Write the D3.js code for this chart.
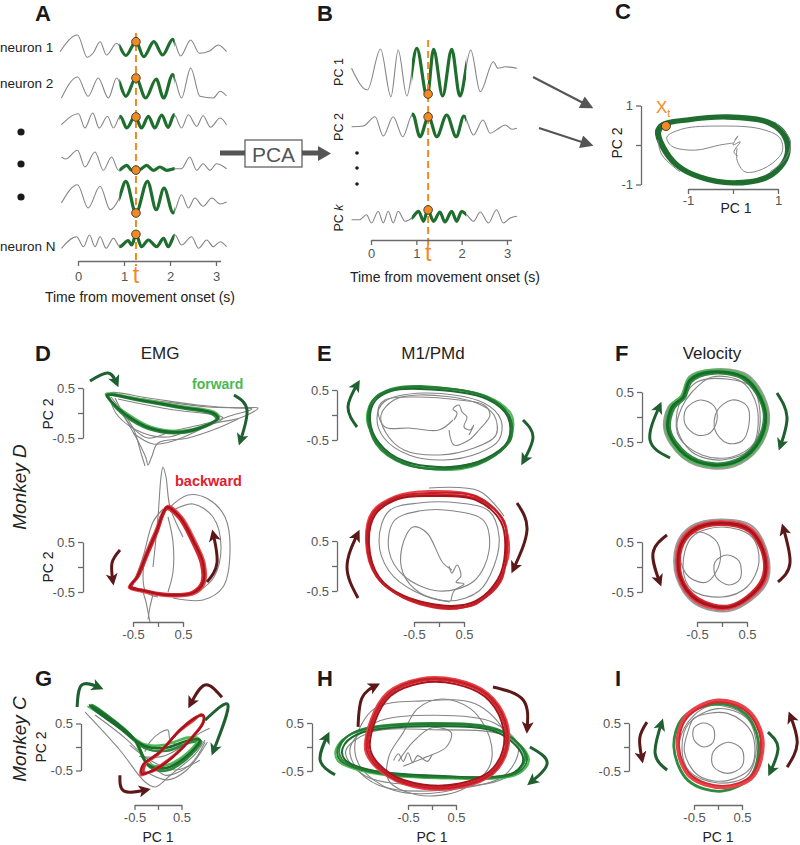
<!DOCTYPE html>
<html><head><meta charset="utf-8">
<script src="https://cdn.jsdelivr.net/npm/d3@7/dist/d3.min.js"></script>
<style>body{margin:0;background:#fff}</style>
</head><body><svg id="c" width="800" height="845"></svg>
<script>
// ================= DATA =================
const neuronLabels = ["neuron 1","neuron 2","","","","neuron N"];
const timeTicks = [0,1,2,3];
const tMark = 1.26;
const highlightWindow = [0.9, 2.1];
// neuron firing-rate traces (time s, rate a.u.) read at local extrema
const neuron1 = [[-0.39,0.63],[-0.01,2.3],[0.20,0.07],[0.33,0.5],[0.48,1.63],[0.62,0.3],[0.84,1.47],[1.04,0.25],[1.26,1.63],[1.43,0.13],[1.65,1.63],[1.84,0.3],[2.06,1.87],[2.23,0.2],[2.45,1.8],[2.64,0.47],[2.86,0.7],[3.05,1.3],[3.23,0.63]];
const neuron2 = [[-0.36,0.0],[-0.01,2.1],[0.22,0.17],[0.44,2.0],[0.66,0.0],[0.84,2.0],[1.04,0.17],[1.26,2.0],[1.47,0.0],[1.70,1.9],[1.86,0.0],[2.06,2.33],[2.25,0.0],[2.45,3.0],[2.65,0.17],[2.94,0.0],[3.09,0.67],[3.23,0.2]];
const neuron3 = [[-0.36,0.33],[0.01,1.43],[0.15,0.0],[0.32,1.5],[0.46,0.0],[0.64,1.17],[0.77,0.0],[0.92,1.17],[1.06,0.0],[1.24,1.17],[1.38,0.0],[1.53,1.17],[1.67,0.0],[1.82,1.3],[1.96,0.05],[2.09,1.33],[2.25,0.0],[2.40,1.33],[2.58,0.17],[2.72,1.23],[2.88,0.07],[3.09,1.0],[3.23,0.33]];
const neuron4 = [[-0.36,1.5],[-0.27,1.3],[-0.01,2.17],[0.15,0.5],[0.37,2.0],[0.55,0.17],[0.73,1.5],[0.88,0.17],[1.06,0.67],[1.17,0.17],[1.35,0.25],[1.49,0.67],[1.64,0.17],[1.78,0.5],[1.93,0.17],[2.11,0.33],[2.25,0.33],[2.43,1.5],[2.58,0.17],[2.72,0.83],[2.87,0.17],[3.01,0.83],[3.23,0.33]];
const neuron5 = [[-0.36,1.0],[-0.01,2.83],[0.22,0.5],[0.48,2.67],[0.70,0.33],[0.88,1.33],[1.04,3.17],[1.26,0.0],[1.51,3.17],[1.70,0.33],[1.87,2.5],[2.07,0.0],[2.25,1.83],[2.40,0.5],[2.54,1.5],[2.72,0.67],[2.91,1.5],[3.09,0.9],[3.23,1.1]];
const neuronN = [[-0.36,0.17],[-0.03,1.33],[0.12,0.33],[0.25,1.5],[0.37,0.33],[0.48,1.33],[0.61,0.17],[0.77,1.17],[0.91,0.33],[1.09,0.93],[1.17,0.5],[1.26,1.57],[1.38,0.33],[1.53,1.0],[1.71,0.33],[1.86,1.17],[1.96,0.33],[2.11,1.5],[2.25,0.5],[2.47,1.33],[2.62,0.17],[2.80,1.0],[2.94,0.33],[3.09,0.83],[3.23,0.33]];
// principal component traces (time s, score a.u.)
const pcLabels = ["PC 1","PC 2","PC k"];
const pc1 = [[-0.43,0.37],[-0.08,-1.8],[0.21,2.3],[0.44,-2.47],[0.60,2.2],[0.79,-2.4],[1.01,2.37],[1.24,-2.47],[1.38,2.27],[1.58,-2.4],[1.78,2.27],[1.96,-2.4],[2.20,2.2],[2.41,-1.97],[2.70,1.03],[2.80,0.37],[2.96,0.53],[3.22,0.37]];
const pc2 = [[-0.43,0.03],[-0.17,0.1],[0.09,1.03],[0.27,-0.9],[0.49,1.03],[0.70,-0.97],[0.92,1.3],[1.08,-0.97],[1.27,1.03],[1.45,-0.97],[1.67,1.2],[1.88,-0.97],[2.05,1.1],[2.26,-0.8],[2.47,0.7],[2.63,-0.63],[2.79,-0.23],[2.96,0.2],[3.11,-0.23],[3.22,-0.13]];
const pcK = [[-0.43,-0.17],[-0.25,-0.17],[-0.10,0.33],[0.01,-0.5],[0.16,0.67],[0.27,-0.5],[0.38,0.67],[0.49,-0.5],[0.60,0.67],[0.75,-0.33],[0.90,0.0],[1.05,0.67],[1.16,-0.33],[1.25,0.83],[1.38,-0.33],[1.52,0.6],[1.63,-0.4],[1.78,0.67],[1.89,-0.33],[2.00,0.67],[2.11,0.33],[2.26,-0.33],[2.41,0.6],[2.59,-0.5],[2.77,0.83],[2.92,-0.5],[3.07,0.0],[3.22,0.17]];

// Panel C state-space (PC1, PC2)
const cTicks = [-1,0,1];
const xtPoint = [-1.49,0.48];
const cLoops = [
 [[-1.67,0.33],[-1.56,0.51],[-1.02,0.63],[-0.13,0.71],[0.76,0.58],[1.11,0.30],[1.22,-0.13],[1.11,-0.46],[0.76,-0.81],[0.0,-0.96],[-0.73,-0.81],[-1.24,-0.51],[-1.56,-0.05]],
 [[-1.63,0.31],[-1.52,0.49],[-1.0,0.61],[-0.13,0.68],[0.73,0.56],[1.08,0.28],[1.19,-0.12],[1.09,-0.45],[0.74,-0.79],[0.0,-0.93],[-0.71,-0.79],[-1.22,-0.49],[-1.52,-0.05]],
 [[-1.70,0.35],[-1.58,0.54],[-1.03,0.66],[-0.12,0.74],[0.78,0.61],[1.14,0.33],[1.25,-0.12],[1.14,-0.48],[0.78,-0.84],[0.0,-0.99],[-0.75,-0.84],[-1.27,-0.53],[-1.60,-0.04]]
];
const cGray = [
 [[0.09,-0.08],[0.09,-0.38],[0.27,-0.68],[0.71,-0.58],[1.09,-0.18],[1.04,0.18],[0.60,0.41],[-0.29,0.48],[-1.11,0.41],[-1.47,0.20],[-1.36,-0.03],[-0.84,-0.13],[-0.29,0.0],[0.0,0.05]],
 [[0.93,0.58],[1.27,0.13],[1.18,-0.33],[0.82,-0.68]],
 [[0.04,0.13],[0.11,0.23],[0.0,0.0],[0.16,0.08],[0.02,-0.18],[0.11,-0.28]],
 [[-1.67,0.13],[-1.58,-0.25],[-1.18,-0.68]]
];

const trajTicks = [-0.5,0,0.5];
// D: EMG, monkey D
const emgFwdLoops = [
 [[-1.0,0.35],[-0.33,0.24],[0.45,0.10],[1.08,-0.02],[1.17,-0.12],[0.92,-0.28],[0.43,-0.40],[-0.18,-0.32],[-0.68,-0.04],[-0.95,0.24]],
 [[-1.04,0.38],[-0.38,0.28],[0.43,0.14],[1.12,0.02],[1.22,-0.09],[0.96,-0.24],[0.46,-0.36],[-0.14,-0.28],[-0.64,0.0],[-0.98,0.28]],
 [[-1.02,0.36],[-0.36,0.26],[0.44,0.12],[1.10,0.0],[1.20,-0.10],[0.94,-0.26],[0.44,-0.38],[-0.16,-0.30],[-0.66,-0.02],[-0.96,0.26]]
];
const emgFwdGrayLoops = [
 [[-0.96,0.40],[-0.2,0.30],[0.8,0.16],[1.6,0.10],[2.0,0.10],[1.64,-0.10],[1.14,-0.20],[0.64,-0.34],[0.2,-0.48],[-0.3,-0.40],[-0.8,-0.06],[-0.96,0.30]]
];
const emgFwdGrayPaths = [
 [[-0.86,0.30],[-0.6,-0.20],[-0.4,-0.56],[-0.24,-0.90],[-0.2,-1.04],[-0.12,-0.86],[0.0,-0.6],[0.6,-0.5],[1.2,-0.3],[1.6,-0.12]],
 [[-0.9,0.36],[0.0,0.24],[1.0,0.12],[1.88,0.08],[1.5,-0.04],[1.0,-0.2],[0.3,-0.36],[-0.2,-0.5],[-0.5,-0.3],[-0.8,0.1]],
 [[-0.94,0.32],[-0.5,-0.3],[-0.34,-0.8],[-0.26,-1.06]],
 [[-0.8,0.28],[0.2,0.08],[1.3,-0.1],[0.9,-0.3],[0.3,-0.56],[-0.1,-0.62],[-0.5,-0.4]]
];
const emgBwdLoops = [
 [[0.18,1.16],[0.42,0.97],[0.67,0.52],[0.86,0.07],[0.87,-0.31],[0.68,-0.50],[0.17,-0.54],[-0.34,-0.45],[-0.53,-0.39],[-0.39,-0.19],[-0.19,0.28],[0.0,0.73],[0.11,1.05]],
 [[0.20,1.22],[0.47,1.01],[0.73,0.55],[0.93,0.08],[0.93,-0.33],[0.72,-0.54],[0.19,-0.58],[-0.37,-0.48],[-0.58,-0.41],[-0.44,-0.21],[-0.24,0.28],[-0.04,0.75],[0.09,1.09]],
 [[0.18,1.20],[0.44,1.00],[0.70,0.54],[0.90,0.08],[0.90,-0.32],[0.70,-0.52],[0.18,-0.56],[-0.36,-0.46],[-0.56,-0.40],[-0.42,-0.20],[-0.22,0.28],[-0.02,0.74],[0.10,1.08]]
];
const emgBwdGrayLoops = [];
const emgBwdGrayPaths = [
 [[-0.1,0.0],[0.0,1.0],[0.06,1.8],[0.1,2.0],[0.16,1.8],[0.24,1.2],[0.5,0.6]],
 [[0.2,1.16],[0.6,1.44],[1.0,1.36],[1.34,1.0],[1.44,0.3],[1.3,-0.4],[0.9,-0.66],[0.3,-0.62]],
 [[0.24,1.1],[0.7,1.26],[1.1,1.0],[1.26,0.4],[1.12,-0.2],[0.8,-0.5]],
 [[0.1,1.0],[-0.2,0.4],[-0.3,-0.2],[-0.24,-0.5],[0.0,-0.6]],
 [[0.2,1.0],[0.3,0.5],[0.3,-0.1],[0.2,-0.5]],
 [[-0.3,-0.5],[-0.24,-0.7],[-0.2,-0.9],[-0.16,-1.1]],
 [[-0.1,-0.55],[-0.16,-0.8],[-0.2,-1.05]],
 [[-0.5,-0.36],[-0.3,0.2],[-0.1,0.9],[0.1,1.16]]
];
// E: M1/PMd, monkey D
const m1FwdLoops = [
 [[-0.36,0.58],[0.98,0.34],[1.40,-0.06],[1.44,-0.48],[0.98,-0.86],[0.20,-1.06],[-0.70,-0.98],[-1.26,-0.58],[-1.40,-0.08],[-1.30,0.32],[-0.96,0.52]],
 [[-0.40,0.54],[0.94,0.38],[1.46,-0.02],[1.40,-0.52],[0.94,-0.92],[0.24,-1.10],[-0.74,-0.94],[-1.22,-0.54],[-1.44,-0.12],[-1.34,0.28],[-1.00,0.48]],
 [[-0.38,0.52],[0.96,0.32],[1.38,-0.04],[1.38,-0.52],[0.92,-0.88],[0.22,-1.04],[-0.70,-0.92],[-1.20,-0.56],[-1.38,-0.10],[-1.28,0.28],[-0.96,0.48]],
 [[-0.38,0.56],[0.96,0.36],[1.42,-0.04],[1.42,-0.50],[0.96,-0.90],[0.22,-1.08],[-0.72,-0.96],[-1.24,-0.56],[-1.42,-0.10],[-1.32,0.30],[-0.98,0.50]]
];
const m1FwdGrayLoops = [
 [[-0.3,0.44],[0.9,0.24],[1.24,-0.1],[1.2,-0.5],[0.8,-0.76],[0.1,-0.9],[-0.6,-0.8],[-1.1,-0.46],[-1.24,-0.06],[-1.1,0.26]],
 [[-0.4,0.40],[0.7,0.26],[1.1,0.0],[1.14,-0.4],[0.7,-0.66],[0.0,-0.8],[-0.7,-0.7],[-1.06,-0.36],[-1.16,0.0],[-0.9,0.3]]
];
const m1FwdGrayPaths = [
 [[0.28,-0.1],[0.0,-0.3],[-0.6,-0.26],[-1.08,-0.24],[-1.22,0.1],[-1.08,0.3],[-0.5,0.36],[0.4,0.3],[0.9,0.2],[1.02,0.0],[0.8,-0.3],[0.6,-0.5],[0.3,-0.6],[0.2,-0.3]],
 [[0.3,-0.1],[0.36,0.04],[0.28,0.12],[0.4,0.2],[0.46,0.06],[0.56,-0.04],[0.5,-0.24],[0.62,-0.3],[0.7,-0.2],[0.6,-0.4]]
];
const m1BwdLoops = [
 [[-0.16,1.42],[0.78,1.34],[1.30,0.90],[1.34,0.24],[1.24,-0.30],[0.78,-0.72],[0.20,-0.86],[-0.70,-0.64],[-1.22,-0.24],[-1.42,0.44],[-1.30,1.04],[-0.82,1.36]],
 [[-0.20,1.50],[0.74,1.40],[1.26,0.94],[1.40,0.28],[1.20,-0.26],[0.74,-0.76],[0.24,-0.82],[-0.74,-0.60],[-1.26,-0.20],[-1.46,0.48],[-1.34,1.08],[-0.86,1.40]],
 [[-0.18,1.40],[0.74,1.32],[1.24,0.88],[1.32,0.26],[1.18,-0.26],[0.74,-0.70],[0.22,-0.80],[-0.70,-0.60],[-1.20,-0.22],[-1.40,0.44],[-1.28,1.02],[-0.82,1.34]],
 [[-0.18,1.46],[0.76,1.38],[1.28,0.92],[1.36,0.26],[1.22,-0.28],[0.76,-0.74],[0.22,-0.84],[-0.72,-0.62],[-1.24,-0.22],[-1.44,0.46],[-1.32,1.06],[-0.84,1.38]]
];
const m1BwdGrayLoops = [
 [[-1.0,1.1],[-1.2,0.5],[-1.0,-0.1],[-0.5,-0.5],[0.2,-0.7],[0.8,-0.5],[1.1,0.0],[1.2,0.6],[1.0,1.1],[0.4,1.26],[-0.4,1.26]],
 [[-0.9,0.9],[-1.0,0.3],[-0.7,-0.2],[0.0,-0.5],[0.7,-0.3],[1.0,0.3],[0.9,0.9],[0.3,1.1],[-0.4,1.1]]
];
const m1BwdGrayPaths = [
 [[0.26,-0.08],[0.08,0.06],[-0.24,0.66],[-0.52,0.78],[-0.74,0.38],[-0.72,-0.14],[-0.38,-0.54],[0.22,-0.72]],
 [[-0.2,1.56],[0.8,1.5],[1.3,1.0]],
 [[0.2,0.0],[0.26,-0.14],[0.36,0.02],[0.44,-0.2],[0.34,-0.32],[0.5,-0.36],[0.3,-0.5],[0.24,-0.7]]
];
// F: hand velocity, monkey D
const velFwdLoops = [
 [[-0.22,0.87],[0.44,0.75],[0.83,0.14],[0.73,-0.44],[0.35,-0.83],[-0.20,-0.93],[-0.71,-0.73],[-1.04,-0.26],[-0.96,0.18],[-0.75,0.38],[-0.61,0.71]],
 [[-0.26,0.93],[0.48,0.81],[0.89,0.14],[0.79,-0.48],[0.37,-0.89],[-0.20,-0.99],[-0.77,-0.79],[-1.11,-0.26],[-1.03,0.22],[-0.81,0.42],[-0.66,0.77]],
 [[-0.24,0.90],[0.46,0.78],[0.86,0.14],[0.76,-0.46],[0.36,-0.86],[-0.20,-0.96],[-0.74,-0.76],[-1.08,-0.26],[-1.00,0.20],[-0.78,0.40],[-0.64,0.74]]
];
const velFwdGrayLoops = [
 [[-0.44,0.34],[-0.16,0.22],[-0.10,-0.06],[-0.24,-0.32],[-0.50,-0.36],[-0.74,-0.14],[-0.72,0.16]],
 [[0.20,0.34],[0.50,0.22],[0.54,-0.14],[0.40,-0.48],[0.10,-0.52],[-0.14,-0.26],[-0.10,0.12]],
 [[-0.8,0.36],[-0.5,0.7],[0.1,0.76],[0.6,0.6],[0.76,0.1],[0.66,-0.5],[0.2,-0.8],[-0.4,-0.76],[-0.86,-0.4],[-0.9,0.1]],
 [[-0.6,0.5],[-0.2,0.8],[0.4,0.7],[0.7,0.2],[0.6,-0.6],[0.0,-0.86],[-0.6,-0.7],[-0.9,-0.2],[-0.8,0.2]]
];
const velFwdGrayOuter = [
 [[-0.2,0.95],[0.52,0.83],[0.93,0.12],[0.81,-0.50],[0.37,-0.93],[-0.2,-1.03],[-0.79,-0.81],[-1.15,-0.26],[-1.07,0.2],[-0.81,0.42],[-0.65,0.81]]
];
const velBwdLoops = [
 [[-0.04,0.85],[0.54,0.71],[0.83,0.20],[0.77,-0.30],[0.16,-0.77],[-0.48,-0.63],[-0.81,-0.20],[-0.81,0.38],[-0.56,0.71]],
 [[-0.04,0.91],[0.58,0.77],[0.89,0.20],[0.83,-0.34],[0.16,-0.83],[-0.52,-0.69],[-0.87,-0.20],[-0.87,0.42],[-0.60,0.77]],
 [[-0.04,0.88],[0.56,0.74],[0.86,0.20],[0.80,-0.32],[0.16,-0.80],[-0.50,-0.66],[-0.84,-0.20],[-0.84,0.40],[-0.58,0.74]]
];
const velBwdGrayLoops = [
 [[-0.44,0.70],[-0.10,0.50],[-0.04,0.10],[-0.30,-0.30],[-0.66,-0.20],[-0.84,0.20],[-0.74,0.56]],
 [[0.10,0.24],[0.34,0.12],[0.36,-0.24],[0.14,-0.36],[-0.12,-0.20],[-0.14,0.10]],
 [[-0.6,0.6],[0.0,0.8],[0.6,0.6],[0.74,0.1],[0.5,-0.4],[0.0,-0.6],[-0.6,-0.46],[-0.78,0.0]]
];
const velBwdGrayOuter = [
 [[-0.02,0.95],[0.61,0.81],[0.93,0.18],[0.87,-0.36],[0.18,-0.87],[-0.54,-0.73],[-0.91,-0.20],[-0.91,0.44],[-0.62,0.81]]
];
// G: EMG, monkey C
const emgCFwdLoops = [
 [[-1.40,0.90],[-0.86,0.50],[-0.46,0.10],[-0.18,-0.42],[0.18,-0.50],[0.60,-0.26],[0.92,0.12],[0.70,0.10],[0.18,-0.08],[-0.24,-0.04],[-0.76,0.36],[-1.30,0.80]],
 [[-1.48,0.86],[-0.94,0.56],[-0.52,0.18],[-0.24,-0.34],[0.12,-0.40],[0.54,-0.20],[0.86,0.18],[0.64,0.20],[0.12,0.04],[-0.30,0.06],[-0.84,0.44],[-1.38,0.80]],
 [[-1.45,0.89],[-0.91,0.53],[-0.49,0.15],[-0.21,-0.38],[0.15,-0.45],[0.57,-0.23],[0.89,0.15],[0.68,0.15],[0.15,-0.02],[-0.28,0.02],[-0.81,0.40],[-1.34,0.79]]
];
const emgCBwdLoops = [
 [[-0.30,-0.55],[-0.26,-0.36],[0.08,-0.06],[0.50,0.40],[0.86,0.66],[0.98,0.64],[0.92,0.46],[0.62,0.10],[0.26,-0.26],[-0.04,-0.48]],
 [[-0.36,-0.60],[-0.34,-0.42],[0.0,-0.16],[0.42,0.30],[0.78,0.58],[0.92,0.70],[0.98,0.56],[0.72,0.20],[0.36,-0.16],[0.0,-0.42]],
 [[-0.34,-0.57],[-0.32,-0.38],[0.04,-0.11],[0.47,0.36],[0.83,0.64],[0.96,0.68],[0.96,0.51],[0.68,0.15],[0.32,-0.21],[-0.02,-0.45]]
];
const emgCGrayPaths = [
 [[-1.55,0.74],[-0.8,-0.08],[-0.28,-0.74],[-0.06,-0.85],[0.26,-0.6],[0.79,-0.15],[1.0,0.15]],
 [[-1.34,0.68],[-0.7,0.19],[-0.21,-0.28],[0.15,-0.6],[0.68,-0.38],[1.0,0.1]],
 [[-0.28,-0.1],[-0.17,0.11],[0.04,0.30],[0.21,0.36],[0.26,0.15],[0.47,0.04],[0.79,0.19]],
 [[-0.6,0.04],[-0.17,-0.28],[0.36,-0.49],[0.89,-0.28]],
 [[-0.4,-0.2],[0.1,-0.2],[0.5,0.0],[0.9,0.3],[1.1,0.4]],
 [[-0.3,-0.5],[0.2,-0.7],[0.6,-0.5],[1.05,0.1]]
];
// H: M1/PMd, monkey C
const m1CFwdLoops = [
 [[-1.92,0.0],[-1.62,0.31],[-0.04,0.50],[1.46,0.33],[1.94,-0.21],[1.74,-0.52],[0.10,-0.61],[-1.42,-0.46],[-1.88,-0.25]],
 [[-2.0,-0.04],[-1.68,0.27],[-0.04,0.46],[1.50,0.29],[2.02,-0.25],[1.80,-0.56],[0.10,-0.65],[-1.46,-0.50],[-1.96,-0.29]],
 [[-1.86,-0.02],[-1.56,0.26],[-0.02,0.43],[1.42,0.28],[1.90,-0.24],[1.70,-0.54],[0.10,-0.60],[-1.38,-0.46],[-1.82,-0.26]],
 [[-1.96,-0.02],[-1.65,0.29],[-0.04,0.48],[1.48,0.31],[1.98,-0.23],[1.77,-0.54],[0.10,-0.63],[-1.44,-0.48],[-1.92,-0.27]]
];
const m1CBwdLoops = [
 [[-1.32,-0.08],[-1.22,0.55],[-0.88,1.10],[-0.25,1.37],[0.50,1.35],[1.13,1.08],[1.49,0.54],[1.52,-0.05],[1.23,-0.53],[0.60,-0.79],[-0.20,-0.81],[-0.88,-0.58]],
 [[-1.38,-0.12],[-1.28,0.56],[-0.92,1.15],[-0.25,1.43],[0.50,1.41],[1.17,1.12],[1.55,0.56],[1.58,-0.05],[1.27,-0.57],[0.60,-0.85],[-0.20,-0.87],[-0.92,-0.62]],
 [[-1.28,-0.08],[-1.19,0.53],[-0.86,1.07],[-0.24,1.33],[0.49,1.31],[1.10,1.05],[1.45,0.53],[1.48,-0.05],[1.20,-0.51],[0.58,-0.76],[-0.20,-0.78],[-0.86,-0.56]],
 [[-1.35,-0.10],[-1.25,0.55],[-0.90,1.12],[-0.25,1.40],[0.50,1.38],[1.15,1.10],[1.52,0.55],[1.55,-0.05],[1.25,-0.55],[0.60,-0.82],[-0.20,-0.84],[-0.90,-0.60]]
];
const m1CGrayLoops = [
 [[-1.6,0.1],[-1.2,0.8],[-0.2,0.96],[0.9,0.9],[1.5,0.3],[1.4,-0.4],[0.4,-0.9],[-0.8,-0.9],[-1.5,-0.4]],
 [[-1.7,0.0],[-1.2,0.5],[0.0,0.66],[1.3,0.5],[1.8,0.0],[1.5,-0.6],[0.2,-0.9],[-1.1,-0.8],[-1.6,-0.4]],
 [[-0.9,-0.2],[-0.6,0.3],[-0.3,0.8],[0.2,1.0],[0.8,0.8],[1.2,0.2],[1.2,-0.4],[0.6,-0.9],[-0.3,-1.0],[-0.9,-0.7]],
 [[-1.8,-0.1],[-1.3,0.3],[0.0,0.36],[1.6,0.2],[1.9,-0.3],[1.4,-0.7],[0.0,-0.8],[-1.4,-0.6]]
];
const m1CGrayPaths = [
 [[-0.7,-0.3],[-0.4,0.1],[0.0,0.4],[0.4,0.3],[0.3,0.0],[-0.1,-0.2],[-0.6,-0.4]],
 [[-0.8,-0.28],[-0.7,-0.14],[-0.6,-0.3],[-0.5,-0.12],[-0.4,-0.32],[-0.3,-0.18],[-0.1,-0.3],[0.0,-0.16]]
];
// I: hand velocity, monkey C
const velCFwdLoops = [
 [[0.0,0.90],[0.56,0.70],[0.84,0.12],[0.68,-0.62],[0.08,-0.92],[-0.62,-0.70],[-0.92,0.0],[-0.72,0.62]]
];
const velCBwdLoops = [
 [[-0.02,0.94],[0.60,0.74],[0.90,0.14],[0.70,-0.60],[0.10,-0.82],[-0.56,-0.60],[-0.82,0.0],[-0.66,0.60]],
 [[-0.02,0.98],[0.63,0.77],[0.94,0.15],[0.73,-0.63],[0.10,-0.85],[-0.58,-0.63],[-0.85,0.0],[-0.69,0.63]]
];
const velCGrayLoops = [
 [[-0.3,0.5],[-0.1,0.4],[-0.1,0.1],[-0.3,0.0],[-0.5,0.15],[-0.5,0.4]],
 [[0.2,0.1],[0.5,-0.05],[0.5,-0.4],[0.2,-0.55],[-0.1,-0.4],[-0.1,-0.1]],
 [[-0.6,0.5],[0.0,0.8],[0.6,0.6],[0.8,0.0],[0.6,-0.6],[0.0,-0.75],[-0.6,-0.5],[-0.75,0.0]],
 [[-0.5,0.6],[0.2,0.7],[0.7,0.3],[0.7,-0.4],[0.2,-0.7],[-0.4,-0.6],[-0.7,-0.1],[-0.6,0.4]],
 [[-0.7,0.4],[-0.2,0.85],[0.5,0.7],[0.85,0.1],[0.6,-0.7],[-0.1,-0.8],[-0.8,-0.3]]
];
// rotation-direction arrows (start, mid, end) in PC units
const arrowsEmgFwd = [{dir:"fwd",p:[[-1.36,0.64],[-1.0,0.80],[-0.82,0.58]]},{dir:"fwd",p:[[1.52,0.36],[1.78,0.06],[1.64,-0.58]]}];
const arrowsEmgBwd = [{dir:"bwd",p:[[-0.76,0.34],[-0.92,0.08],[-0.9,-0.3]]},{dir:"bwd",p:[[0.98,-0.3],[1.18,0.08],[1.1,0.68]]}];
const arrowsM1Fwd = [{dir:"fwd",p:[[-1.64,-0.24],[-1.82,0.16],[-1.62,0.64]]},{dir:"fwd",p:[[1.68,-0.1],[1.88,-0.44],[1.68,-0.94]]}];
const arrowsM1Bwd = [{dir:"bwd",p:[[-1.62,-0.64],[-1.84,-0.02],[-1.62,0.66]]},{dir:"bwd",p:[[1.56,1.26],[1.76,0.72],[1.48,-0.08]]}];
const arrowsVelFwd = [{dir:"fwd",p:[[-1.04,-0.82],[-1.44,-0.46],[-1.24,0.24]]},{dir:"fwd",p:[[1.1,0.48],[1.3,0.0],[1.16,-0.6]]}];
const arrowsVelBwd = [{dir:"bwd",p:[[-1.1,0.64],[-1.38,0.28],[-1.24,-0.32]]},{dir:"bwd",p:[[1.12,-0.3],[1.36,0.08],[1.22,0.8]]}];
const arrowsEmgC = [{dir:"fwd",p:[[-1.72,0.85],[-1.62,1.32],[-1.23,1.26]]},{dir:"fwd",p:[[1.0,0.57],[1.49,0.89],[1.17,-0.11]]},{dir:"bwd",p:[[1.36,1.06],[1.0,1.32],[0.68,0.89]]},{dir:"bwd",p:[[-0.81,-0.6],[-0.72,-0.94],[-0.23,-0.91]]}];
const arrowsM1C = [{dir:"bwd",p:[[-1.54,0.42],[-1.46,1.02],[-1.15,1.29]]},{dir:"bwd",p:[[1.27,1.25],[1.9,0.98],[1.98,0.35]]},{dir:"fwd",p:[[-2.02,-0.58],[-2.33,-0.27],[-2.17,0.25]]},{dir:"fwd",p:[[2.04,0.0],[2.4,-0.33],[2.04,-0.75]]}];
const arrowsVelC = [{dir:"bwd",p:[[-1.48,0.52],[-1.63,0.19],[-1.58,-0.27]]},{dir:"fwd",p:[[-1.06,-0.48],[-1.31,-0.13],[-1.17,0.52]]},{dir:"fwd",p:[[1.04,0.31],[1.25,-0.02],[1.08,-0.54]]},{dir:"bwd",p:[[1.44,-0.42],[1.65,0.08],[1.5,0.67]]}];

// ================= DRAWING =================
const FONT = '"Liberation Sans", Arial, Helvetica, sans-serif';
const ORANGE = "#f28a22", TGREEN = "#1e6e2e", GRAY = "#858585", AX = "#6a6a6a", TXT = "#222";
const FWD = ["#2a8c3c","#4fb955","#1b6b2d","#237a34"];
const BWD = ["#d6262e","#e8434a","#a8141b","#c21e26"];
const ARROW = {fwd:"#1f6030", bwd:"#5b1818"};
const svg = d3.select("#c").attr("font-family", FONT);
const defs = svg.append("defs");
Object.entries(ARROW).forEach(([k,c])=>{
  defs.append("marker").attr("id","ah-"+k).attr("viewBox","0 0 10 10").attr("refX",7).attr("refY",5)
    .attr("markerWidth",13).attr("markerHeight",12).attr("markerUnits","userSpaceOnUse").attr("orient","auto")
    .append("path").attr("d","M0,0L10,5L0,10L2.5,5Z").attr("fill",c);
});
defs.append("marker").attr("id","ah-gray").attr("viewBox","0 0 10 10").attr("refX",8).attr("refY",5)
  .attr("markerWidth",15).attr("markerHeight",13).attr("markerUnits","userSpaceOnUse").attr("orient","auto")
  .append("path").attr("d","M0,0L10,5L0,10Z").attr("fill","#555");

function txt(x,y,s,o={}){
  const t = svg.append("text").attr("x",x).attr("y",y).text(s)
    .attr("font-size",o.size||13).attr("fill",o.fill||TXT).attr("text-anchor",o.anchor||"start");
  if(o.weight) t.attr("font-weight",o.weight);
  if(o.italic) t.attr("font-style","italic");
  return t;
}
function styleAxis(g, fs){
  g.attr("font-family",FONT).attr("font-size",fs||13);
  g.selectAll(".domain,.tick line").attr("stroke",AX).attr("stroke-width",1.3);
  g.selectAll("text").attr("fill","#555");
}
function yAtX(node, x){
  let lo=0, hi=node.getTotalLength();
  for(let i=0;i<40;i++){const m=(lo+hi)/2; if(node.getPointAtLength(m).x<x) lo=m; else hi=m;}
  return node.getPointAtLength((lo+hi)/2).y;
}

[["A",35,21],["B",317,21],["C",615,19],["D",35,361],["E",317,361],["F",615,361],["G",35,686],["H",317,686],["I",615,686]]
  .forEach(([s,x,y])=>txt(x,y,s,{size:22,weight:"bold",fill:"#1a1a1a"}));

function tracePanel(series, xS, bases, k, clipId){
  defs.append("clipPath").attr("id",clipId).append("rect")
    .attr("x",xS(highlightWindow[0])).attr("width",xS(highlightWindow[1])-xS(highlightWindow[0]))
    .attr("y",0).attr("height",320);
  const paths = [];
  series.forEach((s,i)=>{
    const line = d3.line().x(d=>xS(d[0])).y(d=>bases[i]-d[1]*k).curve(d3.curveMonotoneX);
    const p = svg.append("path").attr("d",line(s)).attr("fill","none").attr("stroke",GRAY).attr("stroke-width",1.1);
    svg.append("path").attr("d",line(s)).attr("fill","none").attr("stroke",TGREEN).attr("stroke-width",3.2)
      .attr("clip-path",`url(#${clipId})`);
    paths.push(p.node());
  });
  return paths;
}
const xA = d3.scaleLinear().domain([0,3]).range([78,216]);
const baseA = [58,98,128,172,213,250];
const pathsA = tracePanel([neuron1,neuron2,neuron3,neuron4,neuron5,neuronN], xA, baseA, 10, "clipA");
const xB = d3.scaleLinear().domain([0,3]).range([371,507]);
const baseB = [72,127,218];
const pathsB = tracePanel([pc1,pc2,pcK], xB, baseB, 10, "clipB");

svg.append("line").attr("x1",xA(tMark)).attr("x2",xA(tMark)).attr("y1",33).attr("y2",266)
  .attr("stroke",ORANGE).attr("stroke-width",2).attr("stroke-dasharray","7,4");
svg.append("line").attr("x1",xB(tMark)).attr("x2",xB(tMark)).attr("y1",40).attr("y2",246)
  .attr("stroke",ORANGE).attr("stroke-width",2).attr("stroke-dasharray","7,4");
pathsA.forEach(n=>svg.append("circle").attr("cx",xA(tMark)).attr("cy",yAtX(n,xA(tMark))).attr("r",4.3)
  .attr("fill",ORANGE).attr("stroke","#333").attr("stroke-width",0.9));
pathsB.forEach(n=>svg.append("circle").attr("cx",xB(tMark)).attr("cy",yAtX(n,xB(tMark))).attr("r",4.3)
  .attr("fill",ORANGE).attr("stroke","#333").attr("stroke-width",0.9));

const gAxA = svg.append("g").attr("transform","translate(0,261)")
  .call(d3.axisBottom(xA.copy().domain([0,3.1]).range([xA(0),xA(3.1)])).tickValues(timeTicks).tickSize(5).tickSizeOuter(0).tickPadding(6).tickFormat(d3.format("d")));
styleAxis(gAxA,13);
const gAxB = svg.append("g").attr("transform","translate(0,240)")
  .call(d3.axisBottom(xB.copy().domain([0,3.1]).range([xB(0),xB(3.1)])).tickValues(timeTicks).tickSize(5).tickSizeOuter(0).tickPadding(4).tickFormat(d3.format("d")));
styleAxis(gAxB,13);
txt(xA(tMark),283,"t",{size:23,fill:ORANGE,anchor:"middle"});
txt(xB(tMark),261,"t",{size:23,fill:ORANGE,anchor:"middle"});
txt(140,302,"Time from movement onset (s)",{size:14,anchor:"middle"});
txt(445,282,"Time from movement onset (s)",{size:14,anchor:"middle"});

const labelY = [52,88,null,null,null,251];
neuronLabels.forEach((s,i)=>{ if(s) txt(0,labelY[i],s,{size:13.5}); });
[132,164,197].forEach(y=>svg.append("circle").attr("cx",21).attr("cy",y).attr("r",3.6).attr("fill","#1a1a1a"));
[153,168,184].forEach(y=>svg.append("circle").attr("cx",357).attr("cy",y).attr("r",1.8).attr("fill","#1a1a1a"));
[[72,0],[127,1],[218,2]].forEach(([y,i])=>{
  const t = svg.append("text").attr("transform",`translate(343,${y}) rotate(-90)`).attr("text-anchor","middle")
    .attr("font-size",12.5).attr("fill",TXT);
  if(i<2) t.text(pcLabels[i]);
  else { t.append("tspan").text("PC "); t.append("tspan").attr("font-style","italic").text("k"); }
});

svg.append("line").attr("x1",220).attr("x2",246).attr("y1",153).attr("y2",153).attr("stroke","#555").attr("stroke-width",5);
svg.append("rect").attr("x",245).attr("y",140).attr("width",57).attr("height",27).attr("fill","#fff").attr("stroke","#555").attr("stroke-width",1.2);
txt(273.5,161.5,"PCA",{size:21,fill:"#555",anchor:"middle"});
svg.append("line").attr("x1",302).attr("x2",320).attr("y1",153).attr("y2",153).attr("stroke","#555").attr("stroke-width",5);
svg.append("path").attr("d","M318,146L331,153.5L318,161Z").attr("fill","#555");
[[533,77,591,107],[539,128,591,145]].forEach(([x1,y1,x2,y2])=>
  svg.append("line").attr("x1",x1).attr("y1",y1).attr("x2",x2).attr("y2",y2).attr("stroke","#555").attr("stroke-width",2)
    .attr("marker-end","url(#ah-gray)"));

(function(){
  const x = d3.scaleLinear().domain([-1,1]).range([688,778]);
  const y = d3.scaleLinear().domain([-1,1]).range([184.5,105.5]);
  const closed = d3.line().x(d=>x(d[0])).y(d=>y(d[1])).curve(d3.curveCatmullRomClosed.alpha(0.5));
  const open = d3.line().x(d=>x(d[0])).y(d=>y(d[1])).curve(d3.curveCatmullRom.alpha(0.5));
  cLoops.forEach(l=>svg.append("path").attr("d",closed(l)).attr("fill","none").attr("stroke","#1f6e30").attr("stroke-width",3));
  cGray.forEach(l=>svg.append("path").attr("d",open(l)).attr("fill","none").attr("stroke",GRAY).attr("stroke-width",1));
  svg.append("circle").attr("cx",x(xtPoint[0])).attr("cy",y(xtPoint[1])).attr("r",4.5).attr("fill",ORANGE).attr("stroke","#333").attr("stroke-width",0.9);
  const xt = svg.append("text").attr("x",656).attr("y",113).attr("font-size",17).attr("fill",ORANGE);
  xt.append("tspan").text("X"); xt.append("tspan").attr("dy",4).attr("font-size",11).text("t");
  const ay = svg.append("g").attr("transform","translate(641,0)")
    .call(d3.axisLeft(y).tickValues(cTicks).tickSize(5).tickSizeOuter(0).tickPadding(3).tickFormat(d=>d===0?"":(d<0?"-1":"1")));
  styleAxis(ay,13);
  const ax = svg.append("g").attr("transform","translate(0,189)")
    .call(d3.axisBottom(x).tickValues(cTicks).tickSize(5).tickSizeOuter(0).tickPadding(2).tickFormat(d=>d===0?"":(d<0?"-1":"1")));
  styleAxis(ax,13);
  svg.append("text").attr("transform","translate(622,143) rotate(-90)").attr("text-anchor","middle").attr("font-size",14).attr("fill",TXT).text("PC 2");
  txt(736,213,"PC 1",{size:14,anchor:"middle"});
})();

function traj(o){
  const x = d3.scaleLinear().domain([-1,1]).range([o.ox-o.k,o.ox+o.k]);
  const y = d3.scaleLinear().domain([-1,1]).range([o.oy+o.k,o.oy-o.k]);
  const closed = d3.line().x(d=>x(d[0])).y(d=>y(d[1])).curve(d3.curveCatmullRomClosed.alpha(0.5));
  const open = d3.line().x(d=>x(d[0])).y(d=>y(d[1])).curve(d3.curveCatmullRom.alpha(0.5));
  const arrowLine = d3.line().x(d=>x(d[0])).y(d=>y(d[1])).curve(d3.curveNatural);
  (o.grayOuter||[]).forEach(l=>svg.append("path").attr("d",closed(l)).attr("fill","none").attr("stroke","#9a9a9a").attr("stroke-width",2.2));
  (o.grayLoops||[]).forEach(l=>svg.append("path").attr("d",closed(l)).attr("fill","none").attr("stroke",GRAY).attr("stroke-width",1.1));
  (o.grayPaths||[]).forEach(l=>svg.append("path").attr("d",open(l)).attr("fill","none").attr("stroke",GRAY).attr("stroke-width",1.1));
  (o.fwd||[]).forEach((l,i)=>svg.append("path").attr("d",closed(l)).attr("fill","none").attr("stroke",FWD[i%FWD.length]).attr("stroke-width",o.w||2));
  (o.bwd||[]).forEach((l,i)=>svg.append("path").attr("d",closed(l)).attr("fill","none").attr("stroke",BWD[i%BWD.length]).attr("stroke-width",o.w||2));
  (o.arrows||[]).forEach(a=>svg.append("path").attr("d",arrowLine(a.p)).attr("fill","none").attr("stroke",ARROW[a.dir])
    .attr("stroke-width",3).attr("marker-end",`url(#ah-${a.dir})`));
  if(o.yAxisX!=null){
    const ys = y.copy().domain([-0.5,0.5]).range([y(-0.5),y(0.5)]);
    const g = svg.append("g").attr("transform",`translate(${o.yAxisX},0)`)
      .call(d3.axisLeft(ys).tickValues(trajTicks).tickSize(5).tickSizeOuter(0).tickPadding(3).tickFormat(d=>d===0?"":(d<0?"-0.5":"0.5")));
    styleAxis(g,13);
  }
  if(o.xAxisY!=null){
    const xs = x.copy().domain([-0.5,0.5]).range([x(-0.5),x(0.5)]);
    const g = svg.append("g").attr("transform",`translate(0,${o.xAxisY})`)
      .call(d3.axisBottom(xs).tickValues(trajTicks).tickSize(5).tickSizeOuter(0).tickPadding(3).tickFormat(d=>d===0?"":(d<0?"-0.5":"0.5")));
    styleAxis(g,13);
  }
}
traj({ox:158,oy:413,k:50,fwd:emgFwdLoops,grayLoops:emgFwdGrayLoops,grayPaths:emgFwdGrayPaths,arrows:arrowsEmgFwd,yAxisX:83,w:2.6});
traj({ox:158,oy:567,k:50,bwd:emgBwdLoops,grayLoops:emgBwdGrayLoops,grayPaths:emgBwdGrayPaths,arrows:arrowsEmgBwd,yAxisX:83,xAxisY:622,w:2.4});
traj({ox:439,oy:415,k:50,fwd:m1FwdLoops,grayLoops:m1FwdGrayLoops,grayPaths:m1FwdGrayPaths,arrows:arrowsM1Fwd,yAxisX:337});
traj({ox:439,oy:566,k:50,bwd:m1BwdLoops,grayLoops:m1BwdGrayLoops,grayPaths:m1BwdGrayPaths,arrows:arrowsM1Bwd,yAxisX:337,xAxisY:622});
traj({ox:722,oy:417,k:50,fwd:velFwdLoops,grayOuter:velFwdGrayOuter,grayLoops:velFwdGrayLoops,arrows:arrowsVelFwd,yAxisX:642,w:2.8});
traj({ox:722,oy:567,k:50,bwd:velBwdLoops,grayOuter:velBwdGrayOuter,grayLoops:velBwdGrayLoops,arrows:arrowsVelBwd,yAxisX:642,xAxisY:622,w:2.8});
traj({ox:158,oy:747,k:47,fwd:emgCFwdLoops,grayPaths:emgCGrayPaths,arrows:[],yAxisX:81,xAxisY:805,w:2.6});
traj({ox:158,oy:747,k:47,bwd:emgCBwdLoops,arrows:arrowsEmgC,w:2.4});
traj({ox:432,oy:747,k:48,grayLoops:m1CGrayLoops,grayPaths:m1CGrayPaths,fwd:m1CFwdLoops,yAxisX:312,xAxisY:805});
traj({ox:432,oy:747,k:48,bwd:m1CBwdLoops,arrows:arrowsM1C});
traj({ox:718,oy:747,k:48,grayLoops:velCGrayLoops,fwd:velCFwdLoops,yAxisX:629,xAxisY:805,w:2.8});
traj({ox:718,oy:747,k:48,bwd:velCBwdLoops,arrows:arrowsVelC,w:2.8});

txt(160,359,"EMG",{size:17,anchor:"middle"});
txt(433,359,"M1/PMd",{size:17,anchor:"middle"});
txt(712,359,"Velocity",{size:17,anchor:"middle"});
txt(192,389,"forward",{size:14,weight:"bold",fill:"#4cb853"});
txt(175,486,"backward",{size:14.5,weight:"bold",fill:"#e0202f"});
[[53,414],[53,567],[46,747]].forEach(([x,y])=>svg.append("text").attr("transform",`translate(${x},${y}) rotate(-90)`)
  .attr("text-anchor","middle").attr("font-size",14).attr("fill",TXT).text("PC 2"));
[[26,487,"Monkey D"],[26,739,"Monkey C"]].forEach(([x,y,s])=>svg.append("text").attr("transform",`translate(${x},${y}) rotate(-90)`)
  .attr("text-anchor","middle").attr("font-size",19).attr("font-style","italic").attr("fill",TXT).text(s));
[158,432,718].forEach(x=>txt(x,842,"PC 1",{size:14,anchor:"middle"}));
</script></body></html>
